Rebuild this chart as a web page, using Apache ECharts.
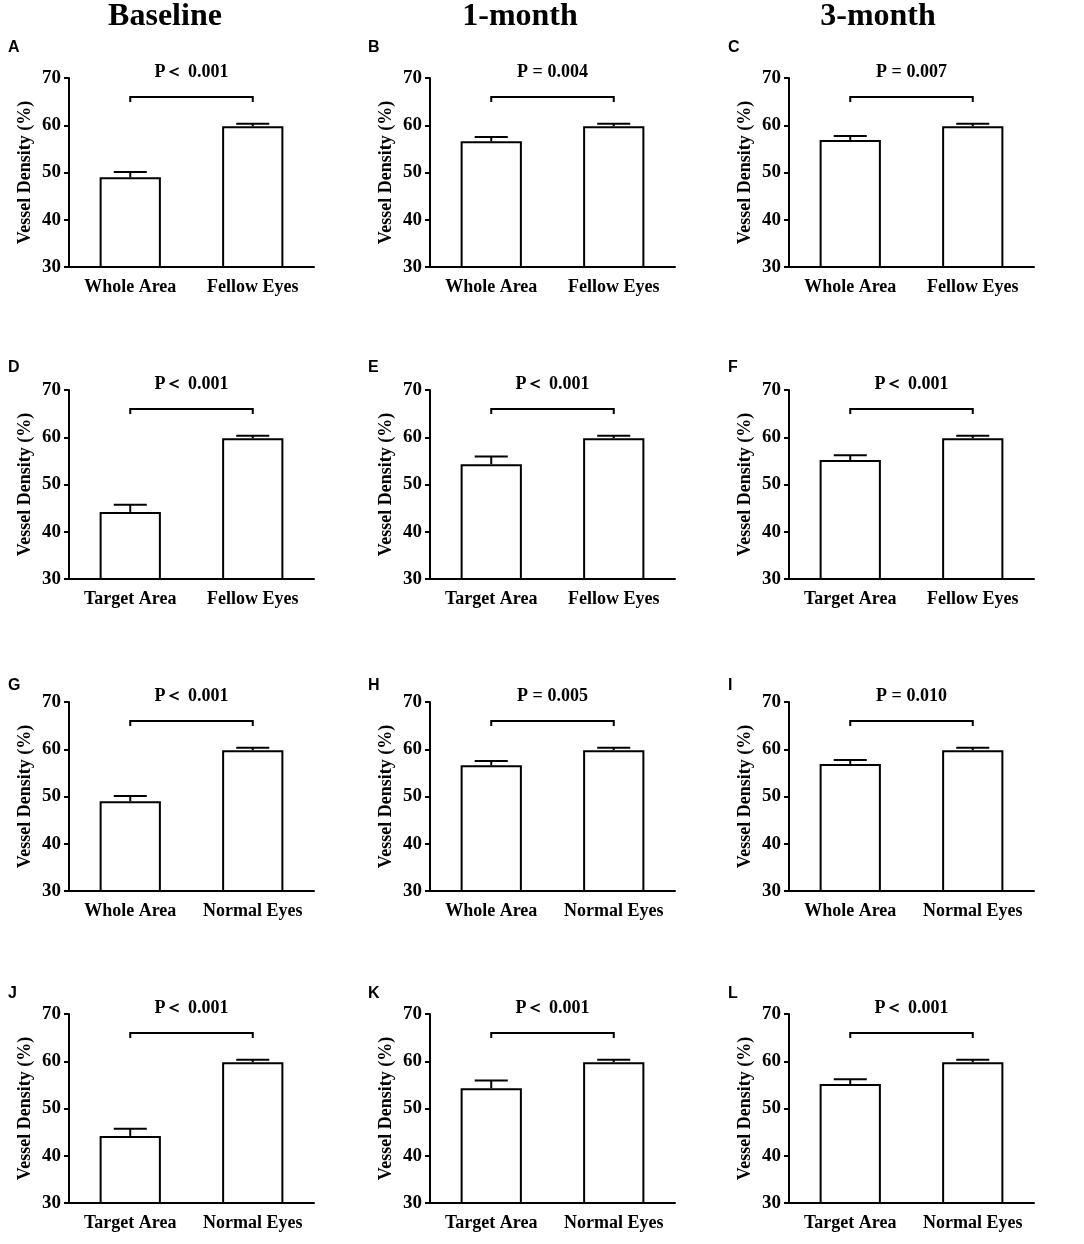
<!DOCTYPE html>
<html>
<head>
<meta charset="utf-8">
<title>Vessel Density</title>
<script src="https://cdn.jsdelivr.net/npm/echarts@6/dist/echarts.min.js"></script>
<style>
  html, body { margin: 0; padding: 0; background: #fff; }
  #main { width: 1084px; height: 1244px; }
</style>
</head>
<body>
<div id="main"></div>
<script>
// 数据
var columnTitles = ['Baseline', '1-month', '3-month'];
var panelLetters = ['A', 'B', 'C', 'D', 'E', 'F', 'G', 'H', 'I', 'J', 'K', 'L'];
var rowCategories = [
	['Whole Area', 'Fellow Eyes'],
	['Target Area', 'Fellow Eyes'],
	['Whole Area', 'Normal Eyes'],
	['Target Area', 'Normal Eyes']
];
var yTicks = [30, 40, 50, 60, 70];
// 均值（每个面板两根柱子）
var meanValues = [
	[49.0, 59.8], [56.6, 59.8], [56.9, 59.8],
	[44.2, 59.8], [54.3, 59.8], [55.2, 59.8],
	[49.0, 59.8], [56.6, 59.8], [56.9, 59.8],
	[44.2, 59.8], [54.3, 59.8], [55.2, 59.8]
];
// 误差（只画上半部分）
var errorValues = [
	[1.1, 0.5], [0.9, 0.5], [0.8, 0.5],
	[1.5, 0.5], [1.6, 0.5], [1.0, 0.5],
	[1.1, 0.5], [0.9, 0.5], [0.8, 0.5],
	[1.5, 0.5], [1.6, 0.5], [1.0, 0.5]
];
var pLabels = [
	'P＜ 0.001', 'P = 0.004', 'P = 0.007',
	'P＜ 0.001', 'P＜ 0.001', 'P＜ 0.001',
	'P＜ 0.001', 'P = 0.005', 'P = 0.010',
	'P＜ 0.001', 'P＜ 0.001', 'P＜ 0.001'
];
var bracketLevel = 66;   // 括号高度
var pLabelLevel = 71.3;  // P值文字位置

// 布局
var gridLefts = [69, 430, 789];
var gridTops = [78, 390, 702, 1014];
var gridWidth = 245;
var gridHeight = 189;
var letterX = [8, 368, 728];
var letterY = [48, 368, 686, 994];
var titleX = [165, 520, 878];

var serif = '"Liberation Serif", "Times New Roman", serif';

function renderError(params, api) {
	var x = api.value(0);
	var mean = api.value(1);
	var base = api.coord([x, mean]);
	var tip = api.coord([x, mean + api.value(2)]);
	var half = api.size([1, 0])[0] * 0.135;
	var st = { stroke: '#000', lineWidth: 2 };
	return {
		type : 'group',
		children : [
			{ type : 'line', shape : { x1 : tip[0], y1 : base[1], x2 : tip[0], y2 : tip[1] }, style : st },
			{ type : 'line', shape : { x1 : tip[0] - half, y1 : tip[1], x2 : tip[0] + half, y2 : tip[1] }, style : st }
		]
	};
}

function renderBracket(params, api) {
	var level = api.value(1);
	var left = api.coord([0, level]);
	var right = api.coord([1, level]);
	var drop = api.coord([0, level - 1.1]);
	var textPos = api.coord([0, api.value(2)]);
	return {
		type : 'group',
		children : [
			{
				type : 'polyline',
				shape : { points : [[left[0], drop[1]], [left[0], left[1]], [right[0], right[1]], [right[0], drop[1]]] },
				style : { stroke : '#000', lineWidth : 2, fill : null }
			},
			{
				type : 'text',
				x : (left[0] + right[0]) / 2,
				y : textPos[1],
				style : {
					text : pLabels[params.seriesIndex / 3 | 0],
					fontFamily : serif,
					fontWeight : 'bold',
					fontSize : 18,
					fill : '#000',
					align : 'center',
					verticalAlign : 'middle'
				}
			}
		]
	};
}

var grids = [], xAxes = [], yAxes = [], series = [], graphics = [];

for (var i = 0; i < 12; i++) {
	var row = Math.floor(i / 3), col = i % 3;
	grids.push({ left : gridLefts[col], top : gridTops[row], width : gridWidth, height : gridHeight });
	xAxes.push({
		type : 'category',
		gridIndex : i,
		data : rowCategories[row],
		axisLine : { lineStyle : { color : '#000', width : 2 } },
		axisTick : { alignWithLabel : true, length : 5, lineStyle : { color : '#000', width : 2 } },
		axisLabel : { interval : 0, margin : 11, color : '#000', fontFamily : serif, fontWeight : 'bold', fontSize : 18 }
	});
	yAxes.push({
		type : 'value',
		gridIndex : i,
		min : yTicks[0],
		max : yTicks[yTicks.length - 1],
		interval : 10,
		name : 'Vessel Density (%)',
		nameLocation : 'middle',
		nameGap : 35,
		nameTextStyle : { color : '#000', fontFamily : serif, fontWeight : 'bold', fontSize : 18 },
		axisLine : { show : true, lineStyle : { color : '#000', width : 2 } },
		axisTick : { show : true, length : 5, lineStyle : { color : '#000', width : 2 } },
		splitLine : { show : false },
		axisLabel : { margin : 8, color : '#000', fontFamily : serif, fontWeight : 'bold', fontSize : 19 }
	});
	series.push({
		type : 'bar',
		xAxisIndex : i,
		yAxisIndex : i,
		barWidth : '50%',
		data : meanValues[i],
		itemStyle : { color : '#fff', borderColor : '#000', borderWidth : 2 },
		silent : true
	});
	series.push({
		type : 'custom',
		xAxisIndex : i,
		yAxisIndex : i,
		renderItem : renderError,
		data : meanValues[i].map(function(v, k) { return [k, v, errorValues[i][k]]; }),
		z : 5,
		silent : true
	});
	series.push({
		type : 'custom',
		xAxisIndex : i,
		yAxisIndex : i,
		renderItem : renderBracket,
		data : [[0, bracketLevel, pLabelLevel]],
		z : 5,
		silent : true
	});
	graphics.push({
		type : 'text',
		x : letterX[col],
		y : letterY[row],
		style : {
			text : panelLetters[i],
			fontFamily : '"Liberation Sans", Arial, sans-serif',
			fontWeight : 'bold',
			fontSize : 16,
			fill : '#000',
			verticalAlign : 'middle'
		}
	});
}

columnTitles.forEach(function(t, c) {
	graphics.push({
		type : 'text',
		x : titleX[c],
		y : 17,
		style : {
			text : t,
			fontFamily : serif,
			fontWeight : 'bold',
			fontSize : 32,
			fill : '#000',
			align : 'center',
			verticalAlign : 'middle'
		}
	});
});

var chart = echarts.init(document.getElementById('main'));
chart.setOption({
	backgroundColor : '#fff',
	animation : false,
	grid : grids,
	xAxis : xAxes,
	yAxis : yAxes,
	series : series,
	graphic : graphics
});
</script>
</body>
</html>
